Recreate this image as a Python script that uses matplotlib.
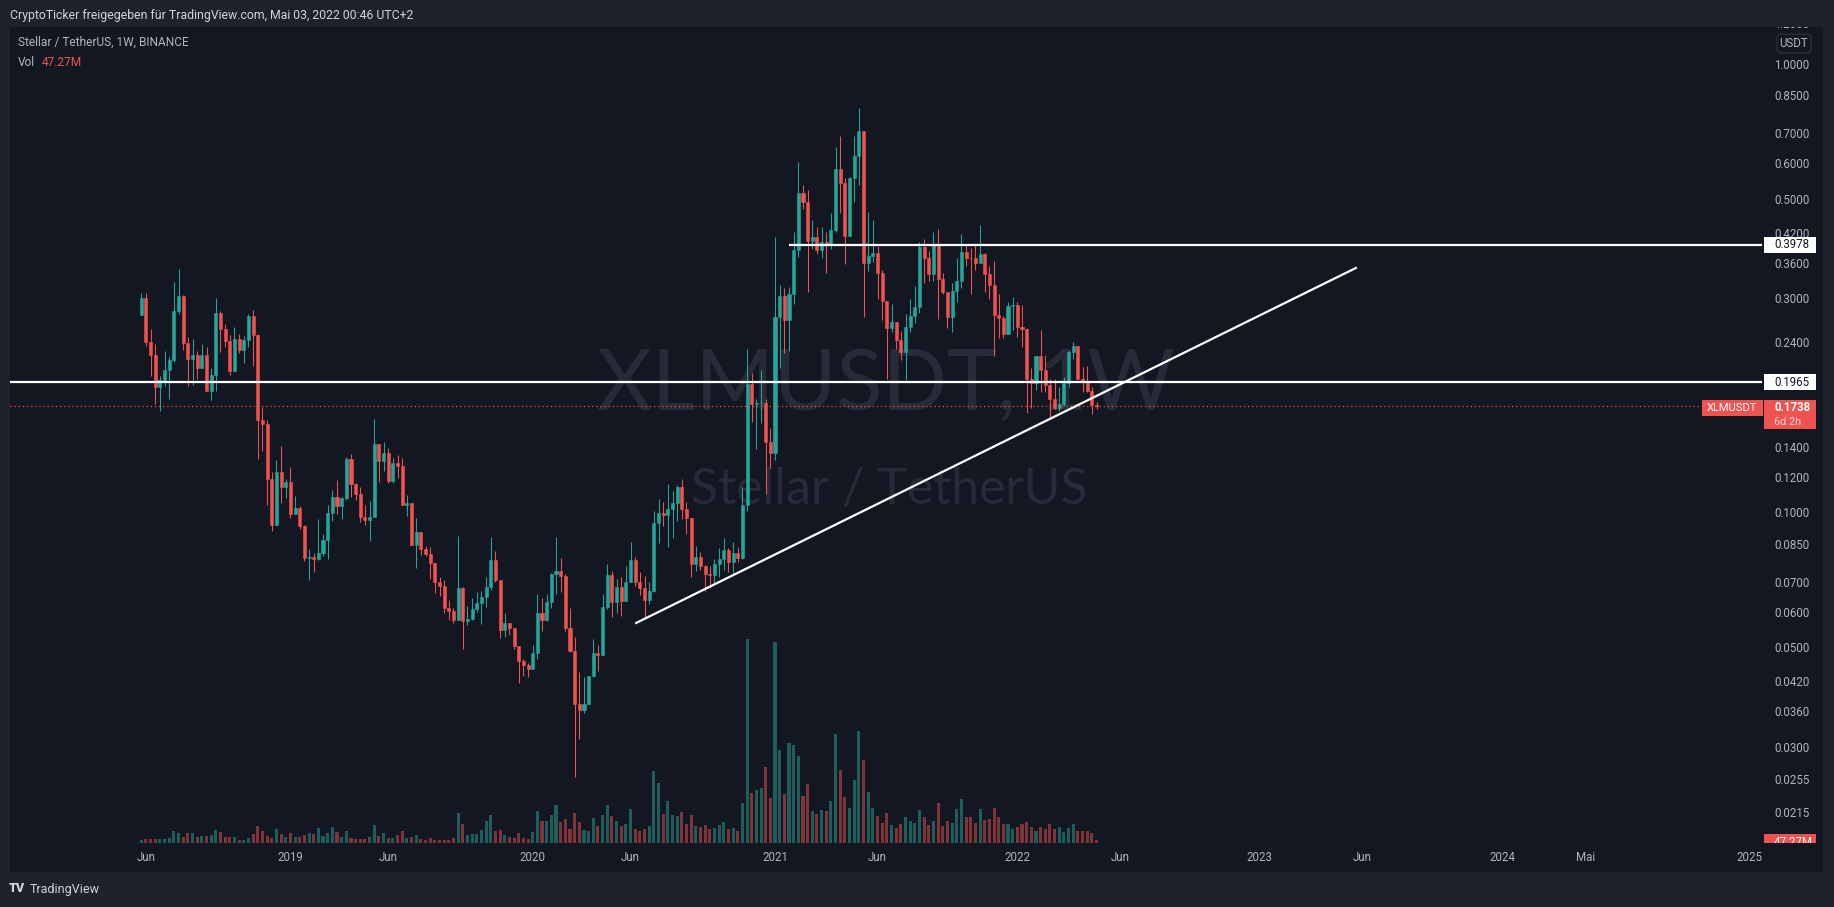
import matplotlib
matplotlib.use("Agg")
import matplotlib.pyplot as plt
import matplotlib.dates as mdates
from matplotlib.patches import Rectangle
from matplotlib.ticker import NullLocator
import numpy as np
import pandas as pd

# weekly XLM/USDT candles (first week 2018-05-28)
first_open = 0.278
closes = [
    0.303, 0.242, 0.2264, 0.1916, 0.1993, 0.2097, 0.2207, 0.2826, 0.306, 0.241,
    0.222, 0.2264, 0.211, 0.2255, 0.1883, 0.2045, 0.281, 0.2577, 0.2434, 0.2085,
    0.2459, 0.2323, 0.2444, 0.2766, 0.2507, 0.1616, 0.159, 0.1199, 0.0947, 0.1237,
    0.1146, 0.118, 0.0997, 0.1030, 0.0940, 0.0797, 0.0801, 0.0793, 0.0818, 0.0874,
    0.1004, 0.1090, 0.1041, 0.1084, 0.1324, 0.1165, 0.1107, 0.0985, 0.0969, 0.0985,
    0.1430, 0.1311, 0.1366, 0.1183, 0.1298, 0.1278, 0.1046, 0.1057, 0.0852, 0.0911,
    0.0835, 0.0814, 0.0777, 0.0705, 0.0691, 0.0617, 0.0608, 0.0580, 0.0683, 0.0576,
    0.0582, 0.0613, 0.0632, 0.0652, 0.0686, 0.0788, 0.0711, 0.0550, 0.0571, 0.0556,
    0.0507, 0.0470, 0.0460, 0.0451, 0.0489, 0.0601, 0.0579, 0.0635, 0.0733, 0.0745,
    0.0726, 0.0556, 0.0494, 0.0377, 0.0365, 0.0377, 0.0435, 0.0489, 0.0484, 0.0619,
    0.0730, 0.0635, 0.0686, 0.0639, 0.0706, 0.0789, 0.0706, 0.0683, 0.0642, 0.0672,
    0.0955, 0.1004, 0.0992, 0.1024, 0.1055, 0.1151, 0.1024, 0.0980, 0.0774, 0.0803,
    0.0764, 0.0733, 0.0731, 0.0774, 0.0792, 0.0829, 0.0783, 0.0819, 0.0799, 0.1047,
    0.1950, 0.1757, 0.1766, 0.1770, 0.1450, 0.1364, 0.275, 0.3056, 0.2700, 0.3087,
    0.3871, 0.519, 0.4963, 0.4068, 0.414, 0.3871, 0.4036, 0.399, 0.4296, 0.586,
    0.547, 0.417, 0.560, 0.628, 0.712, 0.363, 0.375, 0.382, 0.3436, 0.2975,
    0.260, 0.268, 0.2445, 0.2298, 0.2615, 0.2762, 0.2887, 0.394, 0.372, 0.342,
    0.399, 0.3335, 0.3127, 0.2754, 0.3140, 0.331, 0.3844, 0.3723, 0.372, 0.363,
    0.379, 0.342, 0.323, 0.278, 0.2736, 0.2523, 0.2903, 0.2915, 0.2604, 0.2577,
    0.2001, 0.1956, 0.2245, 0.2098, 0.1934, 0.180, 0.172, 0.1762, 0.1956, 0.2298,
    0.2372, 0.2001, 0.1968, 0.1883, 0.175, 0.1738,
]
highs = [
    0.311, 0.310, 0.2577, 0.2396, 0.2032, 0.2309, 0.2242, 0.329, 0.352, 0.308,
    0.2473, 0.2454, 0.2309, 0.2396, 0.2350, 0.2118, 0.303, 0.2826, 0.2644, 0.2507,
    0.2614, 0.2522, 0.2497, 0.2793, 0.2853, 0.2522, 0.1734, 0.1616, 0.1237, 0.1322,
    0.1414, 0.1194, 0.1269, 0.1096, 0.1041, 0.0945, 0.0835, 0.0818, 0.0974, 0.0902,
    0.1046, 0.1130, 0.1189, 0.1090, 0.1338, 0.1359, 0.1170, 0.1147, 0.1046, 0.1068,
    0.1626, 0.1430, 0.1445, 0.1401, 0.1331, 0.1352, 0.1331, 0.1101, 0.1057, 0.0979,
    0.0913, 0.0850, 0.0843, 0.0778, 0.0724, 0.0712, 0.0643, 0.0617, 0.0891, 0.0686,
    0.0622, 0.0648, 0.0669, 0.0673, 0.0722, 0.0886, 0.0825, 0.0711, 0.0601, 0.0572,
    0.0558, 0.0507, 0.0475, 0.0465, 0.0510, 0.0662, 0.0651, 0.0662, 0.0740, 0.0886,
    0.0796, 0.0733, 0.0616, 0.0531, 0.0444, 0.0433, 0.0436, 0.0526, 0.0510, 0.0662,
    0.0772, 0.0745, 0.0715, 0.0723, 0.0764, 0.0865, 0.0802, 0.0741, 0.0727, 0.0706,
    0.1017, 0.1077, 0.1065, 0.1166, 0.1124, 0.1157, 0.1195, 0.1065, 0.0980, 0.0849,
    0.0824, 0.0770, 0.0764, 0.0792, 0.0840, 0.0882, 0.0840, 0.0865, 0.0845, 0.1151,
    0.2332, 0.2064, 0.1801, 0.2090, 0.1801, 0.1551, 0.414, 0.3245, 0.3185, 0.3200,
    0.4244, 0.6085, 0.541, 0.527, 0.4516, 0.437, 0.437, 0.426, 0.468, 0.659,
    0.694, 0.560, 0.564, 0.694, 0.802, 0.715, 0.472, 0.4516, 0.395, 0.350,
    0.298, 0.2938, 0.268, 0.256, 0.2797, 0.302, 0.3222, 0.4036, 0.411, 0.385,
    0.4244, 0.432, 0.345, 0.313, 0.3277, 0.371, 0.421, 0.397, 0.3906, 0.397,
    0.441, 0.381, 0.357, 0.366, 0.309, 0.276, 0.296, 0.305, 0.297, 0.2915,
    0.260, 0.211, 0.225, 0.2566, 0.226, 0.200, 0.200, 0.192, 0.2017, 0.2317,
    0.2422, 0.2372, 0.2125, 0.214, 0.192, 0.178,
]
lows = [
    0.278, 0.2363, 0.2025, 0.1754, 0.170, 0.1924, 0.180, 0.2185, 0.279, 0.2323,
    0.1924, 0.1935, 0.2001, 0.211, 0.1875, 0.179, 0.1875, 0.230, 0.235, 0.2045,
    0.2085, 0.2278, 0.2173, 0.2359, 0.2139, 0.1327, 0.1378, 0.1045, 0.0915, 0.0947,
    0.1055, 0.1083, 0.0978, 0.1003, 0.0927, 0.0787, 0.0712, 0.0742, 0.0789, 0.0806,
    0.0793, 0.0964, 0.0998, 0.0974, 0.1073, 0.1090, 0.1073, 0.0959, 0.0944, 0.0870,
    0.0985, 0.1177, 0.1246, 0.1171, 0.1171, 0.1202, 0.1046, 0.0989, 0.0852, 0.0757,
    0.0810, 0.0806, 0.0716, 0.0666, 0.0656, 0.0602, 0.0580, 0.0571, 0.0579, 0.0499,
    0.0565, 0.0580, 0.0604, 0.0568, 0.0619, 0.0676, 0.0704, 0.0528, 0.0531, 0.0536,
    0.0499, 0.0420, 0.0435, 0.0433, 0.0451, 0.0475, 0.0548, 0.0576, 0.0616, 0.0662,
    0.0669, 0.0548, 0.0492, 0.0259, 0.0315, 0.0360, 0.0376, 0.0433, 0.0446, 0.0484,
    0.0613, 0.0588, 0.0601, 0.0593, 0.0638, 0.0706, 0.0689, 0.0658, 0.0586, 0.0631,
    0.0671, 0.0861, 0.0938, 0.0845, 0.0882, 0.0962, 0.0976, 0.0904, 0.0723, 0.0746,
    0.0751, 0.0672, 0.0683, 0.0700, 0.0723, 0.0751, 0.0741, 0.0736, 0.0780, 0.0795,
    0.1017, 0.1599, 0.1398, 0.1591, 0.1109, 0.1268, 0.1317, 0.2117, 0.228, 0.231,
    0.2938, 0.3745, 0.4788, 0.3126, 0.389, 0.379, 0.372, 0.344, 0.389, 0.425,
    0.468, 0.361, 0.417, 0.496, 0.541, 0.275, 0.348, 0.365, 0.301, 0.270,
    0.200, 0.2545, 0.2337, 0.2208, 0.199, 0.2545, 0.266, 0.281, 0.327, 0.331,
    0.331, 0.272, 0.309, 0.2594, 0.255, 0.296, 0.3196, 0.357, 0.309, 0.350,
    0.363, 0.3127, 0.301, 0.2245, 0.247, 0.247, 0.252, 0.2575, 0.2475, 0.2358,
    0.1678, 0.172, 0.1886, 0.1865, 0.187, 0.1625, 0.1715, 0.1698, 0.174, 0.192,
    0.2214, 0.2001, 0.1868, 0.1868, 0.1667, 0.171,
]
# volume in millions of XLM
volumes = [
    49, 61, 61, 61, 61, 61, 80, 190, 160, 92,
    160, 160, 92, 110, 110, 128, 208, 171, 92, 92,
    92, 49, 49, 80, 141, 270, 190, 110, 80, 220,
    141, 92, 160, 96, 96, 128, 160, 144, 240, 112,
    160, 256, 176, 96, 192, 80, 64, 64, 64, 96,
    288, 112, 160, 80, 80, 128, 192, 80, 96, 128,
    64, 48, 80, 48, 48, 48, 48, 80, 480, 304,
    128, 144, 144, 208, 352, 448, 192, 208, 128, 96,
    80, 160, 80, 64, 176, 512, 352, 352, 448, 608,
    336, 384, 224, 480, 336, 208, 192, 400, 272, 448,
    608, 432, 357, 271, 310, 550, 225, 194, 225, 271,
    1155, 962, 465, 675, 450, 434, 496, 310, 450, 271,
    256, 295, 225, 240, 295, 341, 225, 240, 194, 644,
    3265, 807, 853, 884, 1218, 721, 3218, 1489, 783, 1605,
    1574, 1396, 752, 946, 512, 465, 527, 512, 675, 1745,
    1171, 737, 566, 1008, 1792, 1334, 822, 566, 434, 326,
    481, 295, 240, 310, 419, 357, 326, 527, 419, 295,
    360, 647, 279, 345, 318, 544, 697, 411, 424, 318,
    544, 365, 385, 557, 411, 299, 299, 219, 252, 299,
    332, 252, 186, 252, 219, 299, 219, 252, 179, 245,
    299, 186, 186, 186, 166, 47.27,
]

price_ticks = [1.0, 0.85, 0.70, 0.60, 0.50, 0.42, 0.36, 0.30, 0.24, 0.14, 0.12,
               0.10, 0.085, 0.07, 0.06, 0.05, 0.042, 0.036, 0.03, 0.0255, 0.0215]
time_ticks = ["2018-06-04", "2019-01-07", "2019-06-03", "2020-01-06", "2020-06-01",
              "2021-01-04", "2021-06-07", "2022-01-03", "2022-06-06", "2023-01-02",
              "2023-06-05", "2024-01-01", "2024-05-06", "2025-01-06"]
time_labels = ["Jun", "2019", "Jun", "2020", "Jun", "2021", "Jun", "2022", "Jun",
               "2023", "Jun", "2024", "Mai", "2025"]

resistance = 0.3978
support = 0.1965
last_price = 0.1738
trend_dates = ["2020-06-08", "2023-05-28"]
trend_prices = [0.0570, 0.3542]

BG = '#131722'
FRAME = '#1e222d'
UP = '#26a69a'
DOWN = '#ef5350'
UP_VOL = '#1d5e5c'
DOWN_VOL = '#7e3438'
TXT = '#b2b5be'

plt.rcParams['font.family'] = ['Roboto', 'DejaVu Sans']

W, H = 1834, 907


def fx(px):
    return px / W


def fy(py):
    return 1 - py / H


dates = pd.date_range("2018-05-28", periods=len(closes), freq="7D")
x = mdates.date2num(dates)
closes = np.array(closes)
opens = np.r_[first_open, closes[:-1]]
highs = np.maximum(np.array(highs), np.maximum(opens, closes))
lows = np.minimum(np.array(lows), np.minimum(opens, closes))
up = closes >= opens
colors = np.where(up, UP, DOWN)
vol_colors = np.where(up, UP_VOL, DOWN_VOL)

fig = plt.figure(figsize=(W / 100, H / 100), dpi=100, facecolor=FRAME)
fig.add_artist(Rectangle((fx(10), fy(872)), fx(1823 - 10), (872 - 27) / H,
                         transform=fig.transFigure, facecolor=BG, edgecolor='none', zorder=-3))

# watermark
fig.text(fx(886), fy(386), 'XLMUSDT, 1W', fontsize=61, color='#272b37', ha='center',
         va='center', family=['Lato', 'DejaVu Sans'], zorder=-1)
fig.text(fx(889), fy(489), 'Stellar / TetherUS', fontsize=36, color='#272b37', ha='center',
         va='center', family=['Lato', 'DejaVu Sans'], zorder=-1)

rect = [fx(10), fy(843), (1762 - 10) / W, (843 - 27) / H]
vax = fig.add_axes(rect)
ax = fig.add_axes(rect, sharex=vax)
for a in (vax, ax):
    a.set_facecolor('none')
    for s in a.spines.values():
        s.set_visible(False)

t0 = x[0]
ax.set_xlim(t0 - 197.2, t0 + 2434.6)
ax.set_yscale('log')
ylo, yhi = 0.01847, 1.217
ax.set_ylim(ylo, yhi)
ax.yaxis.set_major_locator(NullLocator())
ax.yaxis.set_minor_locator(NullLocator())
ax.tick_params(axis='y', left=False, labelleft=False)

# volume
vax.bar(x, volumes, width=4.6, color=vol_colors, linewidth=0)
vax.set_ylim(0, 13072)
vax.set_yticks([])
vax.tick_params(axis='x', bottom=False, labelbottom=False)

# candles
ax.vlines(x, lows, highs, colors=colors, linewidth=0.75)
ax.bar(x, np.abs(closes - opens), bottom=np.minimum(opens, closes), width=4.6,
       color=colors, edgecolor=colors, linewidth=0.4)

# drawings
xmax = ax.get_xlim()[1]
ax.axhline(support, color='white', lw=1.6)
ax.hlines(resistance, mdates.date2num(pd.Timestamp("2021-01-25")), xmax, color='white', lw=1.6)
ax.axhline(last_price, color=DOWN, lw=0.9, ls=(0, (1, 2.3)))
ax.plot(mdates.date2num(pd.to_datetime(trend_dates)), trend_prices, color='white', lw=1.6,
        solid_capstyle='butt')
ax.set_xlim(t0 - 197.2, t0 + 2434.6)

ax.set_xticks(mdates.date2num(pd.to_datetime(time_ticks)))
ax.set_xticklabels(time_labels)
ax.xaxis.set_minor_locator(NullLocator())
ax.tick_params(axis='x', length=0, pad=6, labelsize=8.3, colors=TXT)

k = 10 ** (1 / 449.2)  # one pixel on the log price scale

# ticker label on the chart edge
ax.add_patch(Rectangle((0.9658, last_price / k ** 10.3), 0.0348,
                       last_price * k ** 6.7 - last_price / k ** 10.3,
                       transform=ax.get_yaxis_transform(), facecolor=DOWN, edgecolor='none',
                       clip_on=False, zorder=5))
ax.annotate('XLMUSDT', xy=(0.983, last_price), xycoords=ax.get_yaxis_transform(),
            xytext=(0, -1.3), textcoords='offset points', ha='center', va='center',
            fontsize=8, color='white', zorder=6, annotation_clip=False)

# price scale
sc = fig.add_axes([fx(1762), fy(843), (1823 - 1762) / W, (843 - 27) / H])
sc.set_facecolor('none')
sc.set_yscale('log')
sc.set_ylim(ylo, yhi)
sc.set_xlim(0, 1)
sc.set_xticks([])
sc.yaxis.set_major_locator(NullLocator())
sc.yaxis.set_minor_locator(NullLocator())
for s in sc.spines.values():
    s.set_visible(False)
ytr = sc.get_yaxis_transform()

for p in price_ticks:
    sc.text(0.2, p, f'{p:.4f}', transform=ytr, ha='left', va='center', fontsize=8.3,
            color=TXT, clip_on=True)
# top label, mostly cut off by the pane edge
sc.annotate('1.2000', xy=(0.2, 1.0), xycoords='axes fraction', xytext=(0, 2),
            textcoords='offset points', ha='left', va='center', fontsize=8.3, color=TXT,
            annotation_clip=False)
fig.add_artist(Rectangle((fx(1762), fy(27)), fx(61), 27 / H, transform=fig.transFigure,
                         facecolor=FRAME, edgecolor='none', zorder=4))

for p in (resistance, support):
    sc.add_patch(Rectangle((0.033, p / k ** 8), 0.852, p * k ** 8 - p / k ** 8, transform=ytr,
                           facecolor='white', edgecolor='none', zorder=5))
    sc.text(0.2, p, f'{p:.4f}', transform=ytr, ha='left', va='center', fontsize=8.3,
            color='#131722', zorder=6)

sc.add_patch(Rectangle((0.033, last_price / k ** 23.3), 0.852,
                       last_price * k ** 6.7 - last_price / k ** 23.3, transform=ytr,
                       facecolor=DOWN, edgecolor='none', zorder=5))
sc.annotate(f'{last_price:.4f}', xy=(0.2, last_price), xycoords=ytr, xytext=(0, -1),
            textcoords='offset points', ha='left', va='center', fontsize=8.3, color='white',
            fontweight='bold', zorder=6)
sc.annotate('6d 2h', xy=(0.2, last_price), xycoords=ytr, xytext=(0, -11.5),
            textcoords='offset points', ha='left', va='center', fontsize=7.8,
            color='#fbd3d2', zorder=6)

# volume value tag, half hidden at the bottom edge
sc.add_patch(Rectangle((0.033, -0.01), 0.852, 0.021, transform=sc.transAxes,
                       facecolor=DOWN, edgecolor='none', zorder=5, clip_on=True))
sc.text(0.2, 0.0006, '47.27M', transform=sc.transAxes, ha='left', va='center', fontsize=8.3,
        color='white', zorder=6, clip_on=True)

sc.text(0.525, (843 - 43.5) / 816, 'USDT', transform=sc.transAxes, ha='center', va='center',
        fontsize=8.3, color=TXT, zorder=7,
        bbox=dict(boxstyle='round,pad=0.25,rounding_size=0.4', fc=BG, ec='#2a2e39', lw=1))

# texts around the chart
fig.text(fx(10), fy(15), 'CryptoTicker freigegeben für TradingView.com, Mai 03, 2022 00:46 UTC+2',
         color='#d1d4dc', fontsize=8.8, va='center', ha='left')
fig.text(fx(18), fy(42), 'Stellar / TetherUS, 1W, BINANCE', color=TXT, fontsize=8.6,
         va='center', ha='left')
fig.text(fx(18), fy(62), 'Vol', color=TXT, fontsize=8.6, va='center', ha='left')
fig.text(fx(42), fy(62), '47.27M', color=DOWN, fontsize=8.6, va='center', ha='left')
fig.text(fx(9), fy(889), 'TV', color='#d1d4dc', fontsize=9, fontweight='heavy',
         va='center', ha='left')
fig.text(fx(30), fy(889), 'TradingView', color='#d1d4dc', fontsize=9, va='center', ha='left')

fig.savefig('out.png', dpi=100, facecolor=fig.get_facecolor())
